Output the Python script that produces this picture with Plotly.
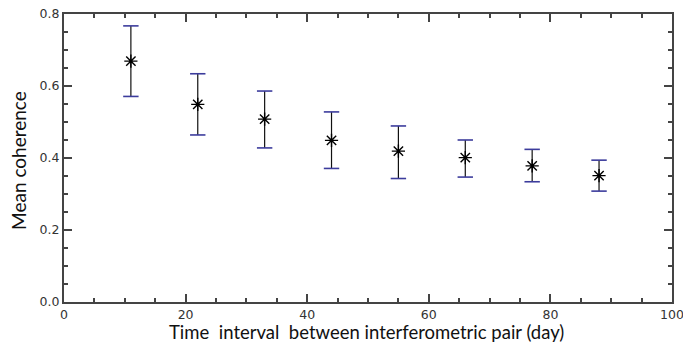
import plotly.graph_objects as go

interval_days = [11, 22, 33, 44, 55, 66, 77, 88]
mean_coh = [0.669, 0.549, 0.508, 0.449, 0.419, 0.401, 0.378, 0.351]
upper = [0.767, 0.634, 0.586, 0.528, 0.489, 0.450, 0.424, 0.394]
lower = [0.571, 0.464, 0.428, 0.371, 0.343, 0.347, 0.334, 0.308]

x_title = "Time  interval  between interferometric pair (day)"
y_title = "Mean coherence"

err_plus = [u - m for u, m in zip(upper, mean_coh)]
err_minus = [m - l for m, l in zip(mean_coh, lower)]

fig = go.Figure()
# vertical error lines (black)
fig.add_trace(go.Scatter(
    x=interval_days, y=mean_coh, mode="markers",
    marker=dict(size=1, color="rgba(0,0,0,0)"),
    error_y=dict(type="data", symmetric=False, array=err_plus, arrayminus=err_minus,
                 color="#111111", thickness=1.2, width=0),
    showlegend=False, hoverinfo="skip"))
# caps (blue)
fig.add_trace(go.Scatter(
    x=interval_days + interval_days, y=upper + lower, mode="markers",
    marker=dict(symbol="line-ew-open", size=11, color="#3c3c9c",
                line=dict(color="#3c3c9c", width=1.6)),
    showlegend=False, hoverinfo="skip"))
# mean markers
fig.add_trace(go.Scatter(
    x=interval_days, y=mean_coh, mode="markers",
    marker=dict(symbol="asterisk-open", size=11, color="black",
                line=dict(color="black", width=1.4)),
    showlegend=False))

axis_common = dict(
    showline=True, linecolor="#444444", linewidth=2, mirror="ticks",
    ticks="inside", tickcolor="#444444", tickwidth=1.5, ticklen=8,
    showgrid=False, zeroline=False, automargin=False,
    ticklabeloverflow="allow",
    tickfont=dict(family="DejaVu Sans", size=12.5, color="#333333"),
)

fig.update_xaxes(range=[0, 100], tickvals=[0, 20, 40, 60, 80, 100],
                 ticktext=["0", "20", "40", "60", "80", "100"],
                 ticklabelstandoff=0,
                 minor=dict(dtick=5, ticks="inside", ticklen=4, tickcolor="#444444", tickwidth=1.5),
                 **axis_common)
fig.update_yaxes(range=[0, 0.8], tickvals=[0, 0.2, 0.4, 0.6, 0.8],
                 ticktext=["0.0", "0.2", "0.4", "0.6", "0.8"],
                 minor=dict(dtick=0.05, ticks="inside", ticklen=4, tickcolor="#444444", tickwidth=1.5),
                 **axis_common)

fig.add_annotation(text=x_title, xref="paper", yref="paper", x=0.498, y=-0.146,
                   xanchor="center", yanchor="bottom", showarrow=False, borderpad=0,
                   font=dict(family="Lato", size=18.5, color="#111111"))
fig.add_annotation(text=y_title, xref="paper", yref="paper", x=-0.074, y=0.49,
                   xanchor="center", yanchor="middle", showarrow=False, textangle=-90,
                   font=dict(family="Lato", size=19, color="#111111"))

fig.update_layout(
    width=683, height=344,
    margin=dict(l=64, r=11, t=14, b=42),
    plot_bgcolor="white", paper_bgcolor="white",
)

fig.write_html("out.html", config={"displayModeBar": False},
               post_script="document.body.style.margin='0';document.body.style.overflow='hidden';")
